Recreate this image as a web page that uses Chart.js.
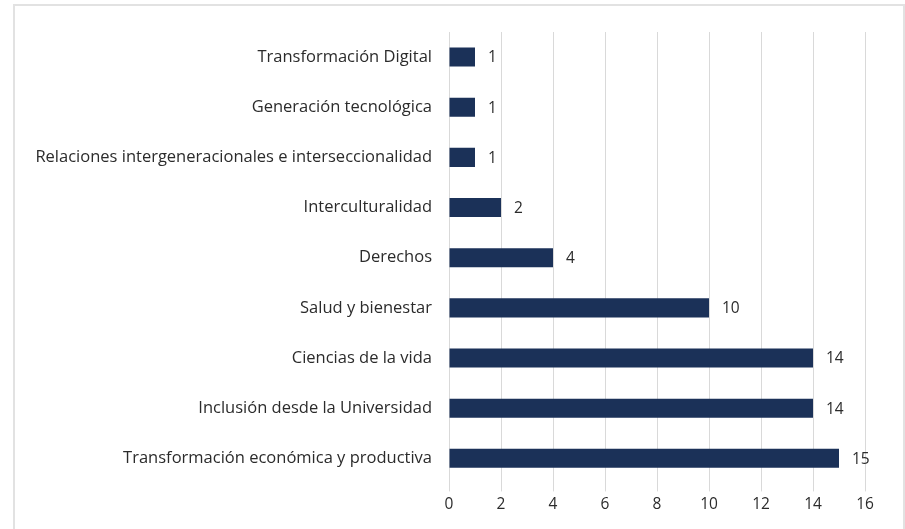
<!DOCTYPE html>
<html>
<head>
  <script src="https://cdn.jsdelivr.net/npm/chart.js@4.4.1/dist/chart.umd.min.js"></script>
</head>
<body style="margin:0;background:#fff">
<div id="outer" style="width:905px;height:529px">
  <canvas id="barChart" width="905" height="529"></canvas>
</div>

<script>
// values
var categories = [
  'Transformación Digital',
  'Generación tecnológica',
  'Relaciones intergeneracionales e interseccionalidad',
  'Interculturalidad',
  'Derechos',
  'Salud y bienestar',
  'Ciencias de la vida',
  'Inclusión desde la Universidad',
  'Transformación económica y productiva'
]
var counts = [1, 1, 1, 2, 4, 10, 14, 14, 15]
var xTicks = [0, 2, 4, 6, 8, 10, 12, 14, 16]

var barColor = '#1b3158'
var fontFamily = '"Open Sans", sans-serif'

// grey frame behind the chart
var framePlugin = {
  id: 'frame',
  beforeDraw: function (chart) {
    var ctx = chart.ctx
    ctx.save()
    ctx.fillStyle = '#ffffff'
    ctx.fillRect(0, 0, chart.width, chart.height)
    ctx.strokeStyle = '#e2e2e2'
    ctx.lineWidth = 2
    ctx.strokeRect(14, 5, 890, 600)
    ctx.restore()
  }
}

// value at the end of each bar
var valueLabels = {
  id: 'valueLabels',
  afterDatasetsDraw: function (chart) {
    var ctx = chart.ctx
    var meta = chart.getDatasetMeta(0)
    ctx.save()
    ctx.font = '15.5px ' + fontFamily
    ctx.fillStyle = '#2b2b2b'
    ctx.textAlign = 'left'
    ctx.textBaseline = 'middle'
    meta.data.forEach(function (bar, i) {
      ctx.fillText(String(counts[i]), bar.x + 13, bar.y + 1)
    })
    ctx.restore()
  }
}

var ctx = document.getElementById('barChart').getContext('2d')
var myBarChart = new Chart(ctx, {
  type: 'bar',
  data: {
    labels: categories,
    datasets: [{
      data: counts,
      backgroundColor: barColor,
      borderWidth: 0,
      barPercentage: 0.76,
      categoryPercentage: 0.5
    }]
  },
  options: {
    indexAxis: 'y',
    responsive: false,
    animation: false,
    layout: { padding: { left: 22, right: 40, top: 32, bottom: 11 } },
    plugins: {
      legend: { display: false },
      tooltip: { enabled: false }
    },
    scales: {
      x: {
        min: 0,
        max: 16,
        afterBuildTicks: function (scale) {
          scale.ticks = xTicks.map(function (v) { return { value: v } })
        },
        grid: { color: '#d9d9d9', lineWidth: 1, tickLength: 8 },
        border: { display: false },
        ticks: { color: '#2b2b2b', font: { family: fontFamily, size: 15.5 }, padding: 4 }
      },
      y: {
        afterFit: function (scale) { scale.width = 427 },
        grid: { display: false },
        border: { display: false },
        ticks: { color: '#2b2b2b', font: { family: fontFamily, size: 16.5 }, padding: 9 }
      }
    }
  },
  plugins: [framePlugin, valueLabels]
})
</script>
</body>
</html>
